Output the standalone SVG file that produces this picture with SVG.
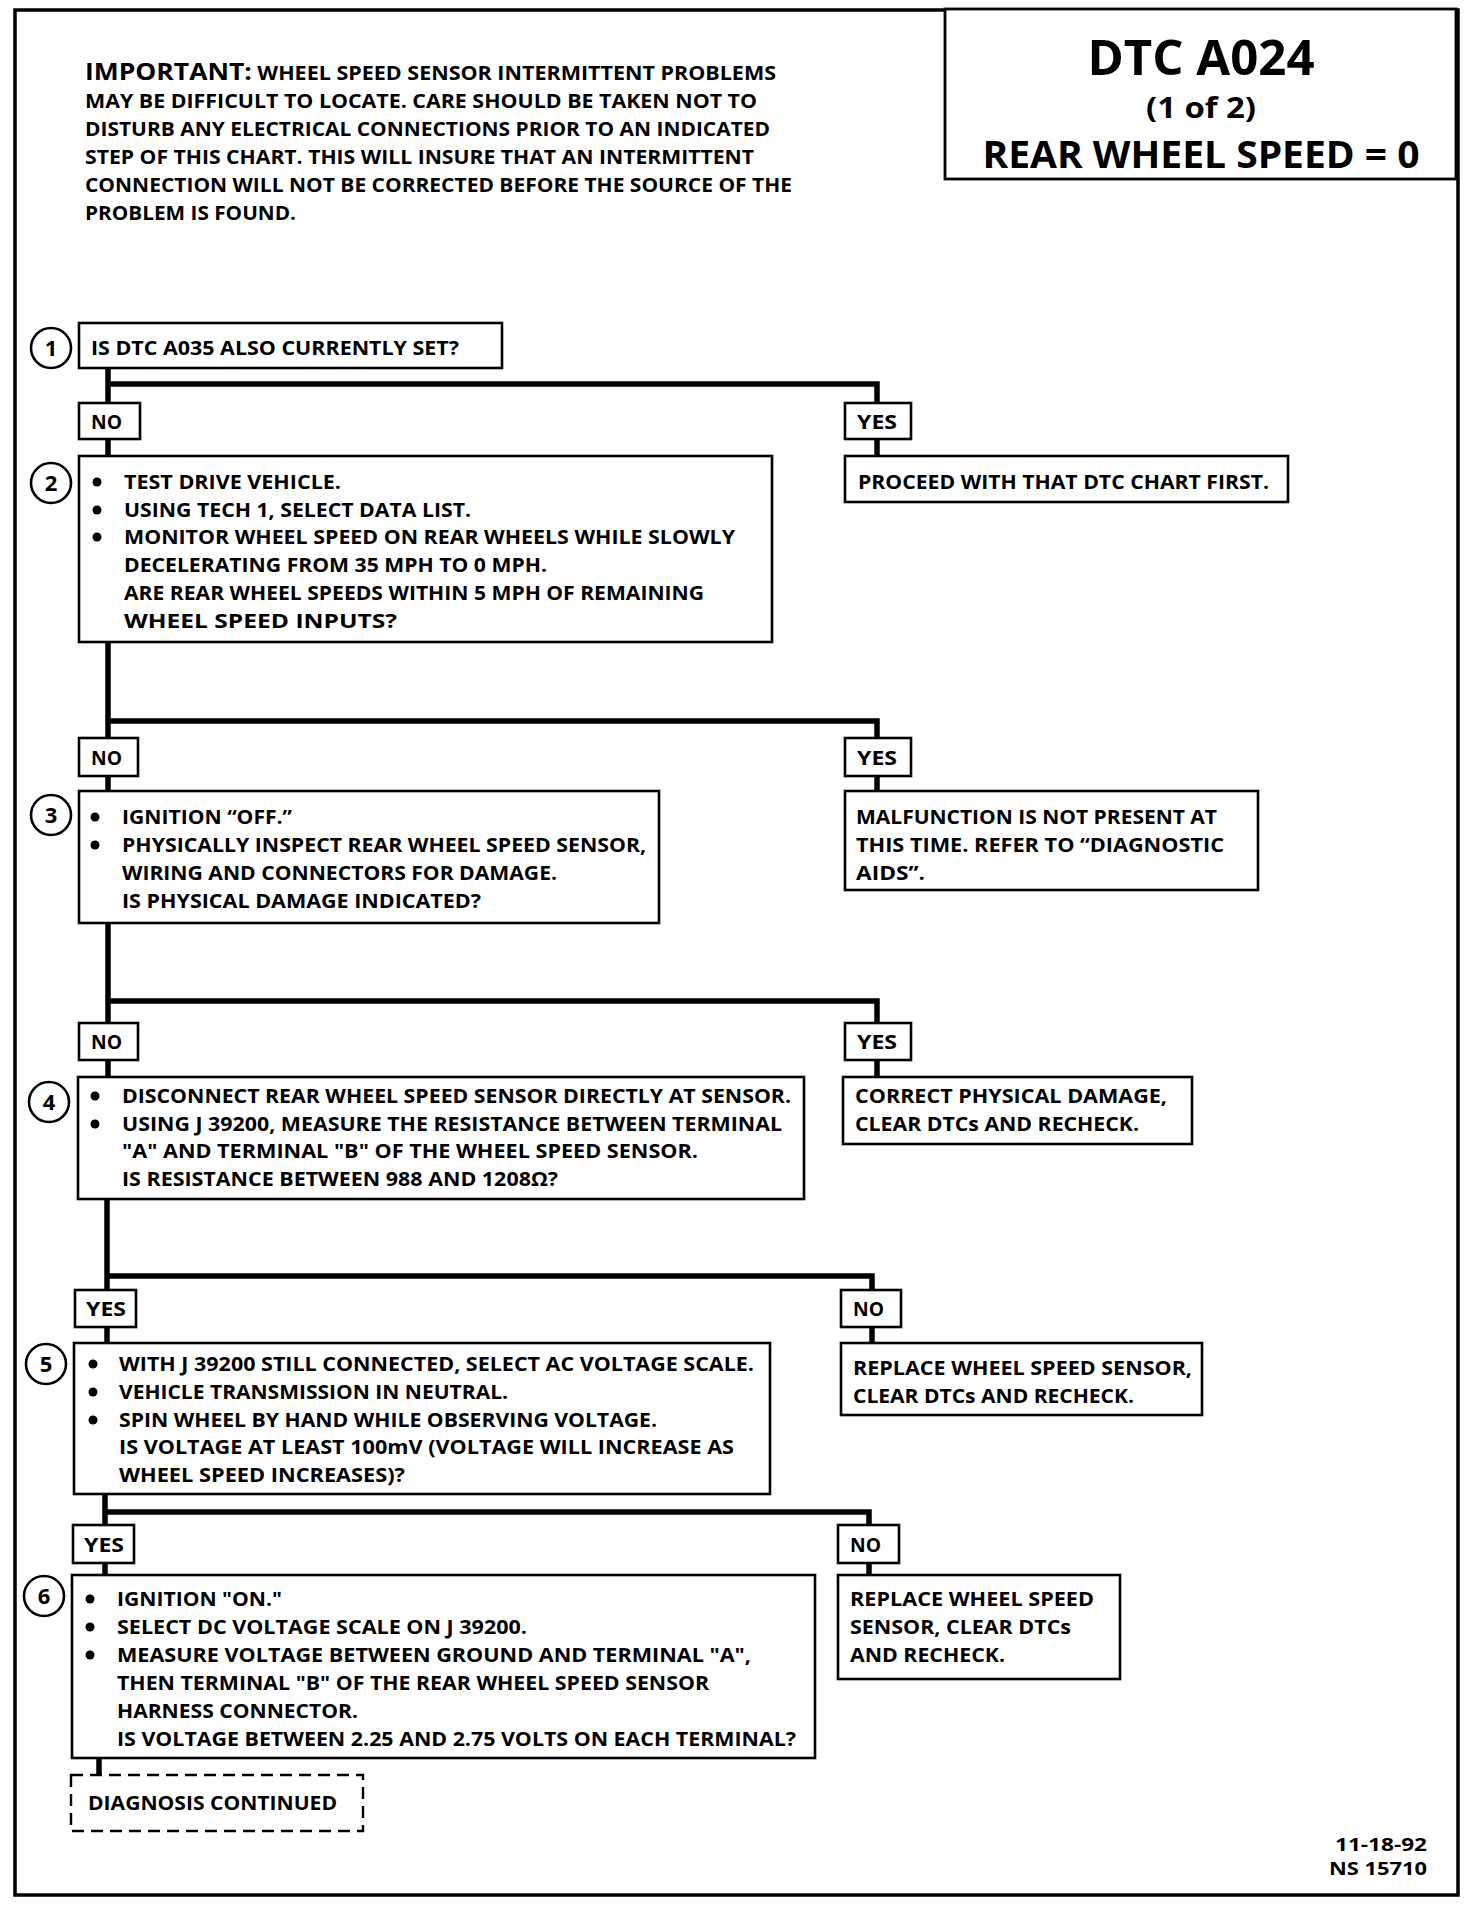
<svg xmlns="http://www.w3.org/2000/svg" width="1472" height="1908" viewBox="0 0 1472 1908">
<style>
text{font-family:"Open Sans","Liberation Sans",sans-serif;font-weight:700;fill:#000}
.t{font-size:20px}
.f{font-size:18px;text-anchor:end}
.imp{font-size:19.5px}
.num{font-size:22px;text-anchor:middle}
.box{fill:#fff;stroke:#000;stroke-width:2.6}
.dash{fill:#fff;stroke:#000;stroke-width:2.4;stroke-dasharray:12 7}
.circ{fill:#fff;stroke:#000;stroke-width:2.6}
.wire{fill:none;stroke:#000;stroke-width:5.5;stroke-linejoin:miter}
.frame{fill:none;stroke:#000;stroke-width:3.5}
.dot{fill:#000}
</style>
<rect width="1472" height="1908" fill="#fff"/>
<rect class="frame" x="15" y="10" width="1443" height="1885"/>

<g id="title">
<rect class="box" x="945" y="9" width="511" height="170" style="stroke-width:2.8"/>
<text x="1201" y="75" style="font-size:48px;text-anchor:middle" textLength="227" lengthAdjust="spacingAndGlyphs">DTC A024</text>
<text x="1201" y="118" style="font-size:28px;text-anchor:middle" textLength="110" lengthAdjust="spacingAndGlyphs">(1 of 2)</text>
<text x="1201" y="168" style="font-size:38px;text-anchor:middle" textLength="437" lengthAdjust="spacingAndGlyphs">REAR WHEEL SPEED = 0</text>
</g>

<g id="important">
<text class="imp" x="85" y="80" textLength="691" lengthAdjust="spacingAndGlyphs"><tspan style="font-size:24px">IMPORTANT:</tspan> WHEEL SPEED SENSOR INTERMITTENT PROBLEMS</text>
<text class="imp" x="85" y="108" textLength="672" lengthAdjust="spacingAndGlyphs">MAY BE DIFFICULT TO LOCATE.  CARE SHOULD BE TAKEN NOT TO</text>
<text class="imp" x="85" y="136" textLength="685" lengthAdjust="spacingAndGlyphs">DISTURB ANY ELECTRICAL CONNECTIONS PRIOR TO AN INDICATED</text>
<text class="imp" x="85" y="164" textLength="669" lengthAdjust="spacingAndGlyphs">STEP OF THIS CHART.  THIS WILL INSURE THAT AN INTERMITTENT</text>
<text class="imp" x="85" y="192" textLength="707" lengthAdjust="spacingAndGlyphs">CONNECTION WILL NOT BE CORRECTED BEFORE THE SOURCE OF THE</text>
<text class="imp" x="85" y="220" textLength="211" lengthAdjust="spacingAndGlyphs">PROBLEM IS FOUND.</text>
</g>

<g id="connectors">
<path class="wire" d="M108 368 V456 M108 384 H877 V456"/>
<path class="wire" d="M108 642 V791 M108 721 H877 V791"/>
<path class="wire" d="M108 923 V1077 M108 1001 H877 V1077"/>
<path class="wire" d="M107 1199 V1343 M107 1276 H872 V1343"/>
<path class="wire" d="M105 1494 V1575 M105 1512 H869 V1575"/>
<path class="wire" d="M99 1758 V1775"/>
</g>

<g id="step1">
<circle class="circ" cx="51" cy="348" r="20"/>
<text class="num" x="51" y="356">1</text>
<rect class="box" x="79" y="323" width="423" height="45"/>
<text class="t" x="91" y="355" textLength="368" lengthAdjust="spacingAndGlyphs">IS DTC A035 ALSO CURRENTLY SET?</text>
</g>
<g id="no1"><rect class="box" x="79" y="403" width="61" height="36"/><text class="t" x="91" y="429" textLength="31" lengthAdjust="spacingAndGlyphs">NO</text></g>
<g id="yes1"><rect class="box" x="845" y="403" width="66" height="36"/><text class="t" x="857" y="429" textLength="40" lengthAdjust="spacingAndGlyphs">YES</text></g>
<g id="result1">
<rect class="box" x="845" y="456" width="443" height="46"/>
<text class="t" x="858" y="489" textLength="411" lengthAdjust="spacingAndGlyphs">PROCEED WITH THAT DTC CHART FIRST.</text>
</g>

<g id="step2">
<circle class="circ" cx="51" cy="483" r="20"/>
<text class="num" x="51" y="491">2</text>
<rect class="box" x="79" y="456" width="693" height="186"/>
<circle class="dot" cx="97" cy="482" r="4.5"/><circle class="dot" cx="97" cy="510" r="4.5"/><circle class="dot" cx="97" cy="537" r="4.5"/>
<text class="t" x="124" y="489" textLength="217" lengthAdjust="spacingAndGlyphs">TEST DRIVE VEHICLE.</text>
<text class="t" x="124" y="517" textLength="347" lengthAdjust="spacingAndGlyphs">USING TECH 1, SELECT DATA LIST.</text>
<text class="t" x="124" y="544" textLength="611" lengthAdjust="spacingAndGlyphs">MONITOR WHEEL SPEED ON REAR WHEELS WHILE SLOWLY</text>
<text class="t" x="124" y="572" textLength="423" lengthAdjust="spacingAndGlyphs">DECELERATING FROM 35 MPH TO 0 MPH.</text>
<text class="t" x="124" y="600" textLength="580" lengthAdjust="spacingAndGlyphs">ARE REAR WHEEL SPEEDS WITHIN 5 MPH OF REMAINING</text>
<text class="t" x="124" y="628" textLength="273" lengthAdjust="spacingAndGlyphs">WHEEL SPEED INPUTS?</text>
</g>
<g id="no2"><rect class="box" x="79" y="738" width="59" height="38"/><text class="t" x="91" y="765" textLength="31" lengthAdjust="spacingAndGlyphs">NO</text></g>
<g id="yes2"><rect class="box" x="845" y="738" width="66" height="38"/><text class="t" x="857" y="765" textLength="40" lengthAdjust="spacingAndGlyphs">YES</text></g>
<g id="result2">
<rect class="box" x="845" y="791" width="413" height="99"/>
<text class="t" x="856" y="824" textLength="361" lengthAdjust="spacingAndGlyphs">MALFUNCTION IS NOT PRESENT AT</text>
<text class="t" x="856" y="852" textLength="368" lengthAdjust="spacingAndGlyphs">THIS TIME.  REFER TO “DIAGNOSTIC</text>
<text class="t" x="856" y="880" textLength="69" lengthAdjust="spacingAndGlyphs">AIDS”.</text>
</g>

<g id="step3">
<circle class="circ" cx="51" cy="815" r="20"/>
<text class="num" x="51" y="823">3</text>
<rect class="box" x="79" y="791" width="580" height="132"/>
<circle class="dot" cx="95" cy="817" r="4.5"/><circle class="dot" cx="95" cy="845" r="4.5"/>
<text class="t" x="122" y="824" textLength="170" lengthAdjust="spacingAndGlyphs">IGNITION “OFF.”</text>
<text class="t" x="122" y="852" textLength="524" lengthAdjust="spacingAndGlyphs">PHYSICALLY INSPECT REAR WHEEL SPEED SENSOR,</text>
<text class="t" x="122" y="880" textLength="435" lengthAdjust="spacingAndGlyphs">WIRING AND CONNECTORS FOR DAMAGE.</text>
<text class="t" x="122" y="908" textLength="359" lengthAdjust="spacingAndGlyphs">IS PHYSICAL DAMAGE INDICATED?</text>
</g>
<g id="no3"><rect class="box" x="79" y="1023" width="59" height="37"/><text class="t" x="91" y="1049" textLength="31" lengthAdjust="spacingAndGlyphs">NO</text></g>
<g id="yes3"><rect class="box" x="845" y="1023" width="66" height="37"/><text class="t" x="857" y="1049" textLength="40" lengthAdjust="spacingAndGlyphs">YES</text></g>
<g id="result3">
<rect class="box" x="843" y="1077" width="349" height="67"/>
<text class="t" x="855" y="1103" textLength="312" lengthAdjust="spacingAndGlyphs">CORRECT PHYSICAL DAMAGE,</text>
<text class="t" x="855" y="1131" textLength="284" lengthAdjust="spacingAndGlyphs">CLEAR DTCs AND RECHECK.</text>
</g>

<g id="step4">
<circle class="circ" cx="49" cy="1102" r="20"/>
<text class="num" x="49" y="1110">4</text>
<rect class="box" x="78" y="1077" width="726" height="122"/>
<circle class="dot" cx="95" cy="1096" r="4.5"/><circle class="dot" cx="95" cy="1124" r="4.5"/>
<text class="t" x="122" y="1103" textLength="669" lengthAdjust="spacingAndGlyphs">DISCONNECT REAR WHEEL SPEED SENSOR DIRECTLY AT SENSOR.</text>
<text class="t" x="122" y="1131" textLength="660" lengthAdjust="spacingAndGlyphs">USING J 39200, MEASURE THE RESISTANCE BETWEEN TERMINAL</text>
<text class="t" x="122" y="1158" textLength="576" lengthAdjust="spacingAndGlyphs">"A" AND TERMINAL "B" OF THE WHEEL SPEED SENSOR.</text>
<text class="t" x="122" y="1186" textLength="436" lengthAdjust="spacingAndGlyphs">IS RESISTANCE BETWEEN 988 AND 1208Ω?</text>
</g>
<g id="yes4"><rect class="box" x="75" y="1290" width="61" height="37"/><text class="t" x="86" y="1316" textLength="40" lengthAdjust="spacingAndGlyphs">YES</text></g>
<g id="no4"><rect class="box" x="841" y="1290" width="60" height="37"/><text class="t" x="853" y="1316" textLength="31" lengthAdjust="spacingAndGlyphs">NO</text></g>
<g id="result4">
<rect class="box" x="841" y="1343" width="361" height="72"/>
<text class="t" x="853" y="1375" textLength="339" lengthAdjust="spacingAndGlyphs">REPLACE WHEEL SPEED SENSOR,</text>
<text class="t" x="853" y="1403" textLength="281" lengthAdjust="spacingAndGlyphs">CLEAR DTCs AND RECHECK.</text>
</g>

<g id="step5">
<circle class="circ" cx="46" cy="1364" r="20"/>
<text class="num" x="46" y="1372">5</text>
<rect class="box" x="74" y="1343" width="696" height="151"/>
<circle class="dot" cx="93" cy="1364" r="4.5"/><circle class="dot" cx="93" cy="1392" r="4.5"/><circle class="dot" cx="93" cy="1420" r="4.5"/>
<text class="t" x="119" y="1371" textLength="635" lengthAdjust="spacingAndGlyphs">WITH J 39200 STILL CONNECTED, SELECT AC VOLTAGE SCALE.</text>
<text class="t" x="119" y="1399" textLength="389" lengthAdjust="spacingAndGlyphs">VEHICLE TRANSMISSION IN NEUTRAL.</text>
<text class="t" x="119" y="1427" textLength="538" lengthAdjust="spacingAndGlyphs">SPIN WHEEL BY HAND WHILE OBSERVING VOLTAGE.</text>
<text class="t" x="119" y="1454" textLength="615" lengthAdjust="spacingAndGlyphs">IS VOLTAGE AT LEAST 100mV (VOLTAGE WILL INCREASE AS</text>
<text class="t" x="119" y="1482" textLength="286" lengthAdjust="spacingAndGlyphs">WHEEL SPEED INCREASES)?</text>
</g>
<g id="yes5"><rect class="box" x="73" y="1525" width="61" height="38"/><text class="t" x="84" y="1552" textLength="40" lengthAdjust="spacingAndGlyphs">YES</text></g>
<g id="no5"><rect class="box" x="838" y="1525" width="61" height="38"/><text class="t" x="850" y="1552" textLength="31" lengthAdjust="spacingAndGlyphs">NO</text></g>
<g id="result5">
<rect class="box" x="838" y="1575" width="282" height="104"/>
<text class="t" x="850" y="1606" textLength="244" lengthAdjust="spacingAndGlyphs">REPLACE WHEEL SPEED</text>
<text class="t" x="850" y="1634" textLength="221" lengthAdjust="spacingAndGlyphs">SENSOR, CLEAR DTCs</text>
<text class="t" x="850" y="1662" textLength="155" lengthAdjust="spacingAndGlyphs">AND RECHECK.</text>
</g>

<g id="step6">
<circle class="circ" cx="44" cy="1596" r="20"/>
<text class="num" x="44" y="1604">6</text>
<rect class="box" x="72" y="1575" width="743" height="183"/>
<circle class="dot" cx="90" cy="1599" r="4.5"/><circle class="dot" cx="90" cy="1627" r="4.5"/><circle class="dot" cx="90" cy="1655" r="4.5"/>
<text class="t" x="117" y="1606" textLength="165" lengthAdjust="spacingAndGlyphs">IGNITION "ON."</text>
<text class="t" x="117" y="1634" textLength="410" lengthAdjust="spacingAndGlyphs">SELECT DC VOLTAGE SCALE ON J 39200.</text>
<text class="t" x="117" y="1662" textLength="634" lengthAdjust="spacingAndGlyphs">MEASURE VOLTAGE BETWEEN GROUND AND TERMINAL "A",</text>
<text class="t" x="117" y="1690" textLength="592" lengthAdjust="spacingAndGlyphs">THEN TERMINAL "B" OF THE REAR WHEEL SPEED SENSOR</text>
<text class="t" x="117" y="1718" textLength="241" lengthAdjust="spacingAndGlyphs">HARNESS CONNECTOR.</text>
<text class="t" x="117" y="1746" textLength="679" lengthAdjust="spacingAndGlyphs">IS VOLTAGE BETWEEN 2.25 AND 2.75 VOLTS ON EACH TERMINAL?</text>
</g>
<g id="continued">
<rect class="dash" x="71" y="1775" width="292" height="56"/>
<text class="t" x="88" y="1810" textLength="249" lengthAdjust="spacingAndGlyphs">DIAGNOSIS CONTINUED</text>
</g>

<g id="footer">
<text class="f" x="1427" y="1851" textLength="92" lengthAdjust="spacingAndGlyphs">11-18-92</text>
<text class="f" x="1427" y="1875" textLength="98" lengthAdjust="spacingAndGlyphs">NS 15710</text>
</g>
</svg>
